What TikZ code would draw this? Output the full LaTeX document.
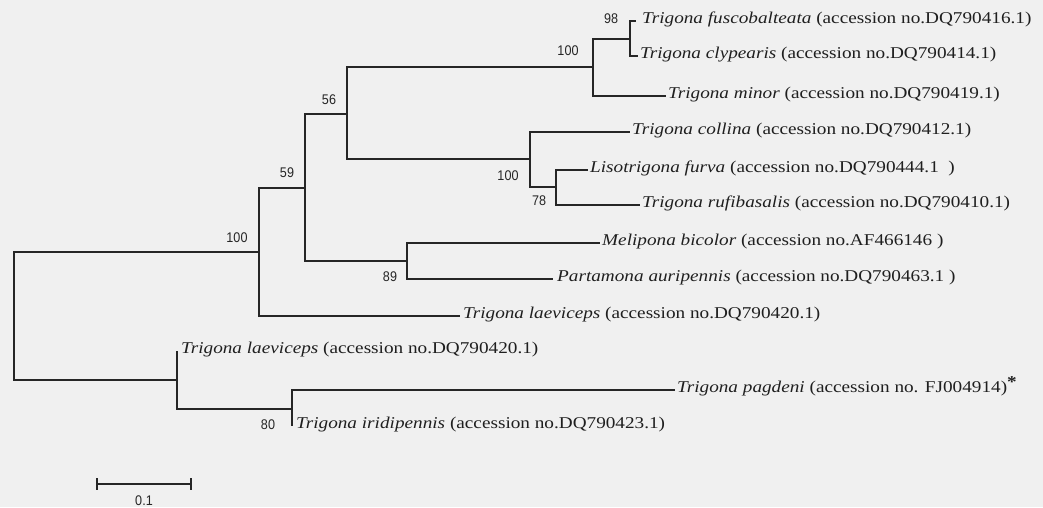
\documentclass[tikz,border=0pt]{standalone}
\usepackage{fontspec}
\setmainfont{Liberation Serif}
\newfontfamily\leaffont[FakeStretch=1.165]{Liberation Serif}
\newfontfamily\bsfont[FakeStretch=0.9]{Liberation Sans}
\begin{document}
\begin{tikzpicture}[x=1pt,y=-1pt,
  br/.style={draw=black!85, line width=1.1pt, line join=miter},
  leaf/.style={anchor=west, inner xsep=2pt, inner ysep=0pt, text height=0.7em, text depth=0.2em,
    font=\leaffont\fontsize{16.5}{19}\selectfont, text=black!88},
  bs/.style={font=\bsfont\fontsize{14}{16}\selectfont, text=black!85, inner sep=0pt}]
\useasboundingbox[fill=black!6] (0,0) rectangle (1043,507);

% internal nodes (x of vertical bar, y of stem)
\coordinate (root) at (14,316);
\coordinate (n100) at (259,252);
\coordinate (n59)  at (305,188);
\coordinate (n56)  at (347,114);
\coordinate (nF)   at (593,67);
\coordinate (n98)  at (630,39);
\coordinate (nC)   at (530,159);
\coordinate (n78)  at (556,187);
\coordinate (n89)  at (407,261);
\coordinate (nB)   at (177,380);
\coordinate (n80)  at (292,409);

% leaves
\node[leaf, inner xsep=6pt] (fus) at (636,21) {\textit{Trigona fuscobalteata} (accession no.DQ790416.1)};
\node[leaf] (cly) at (638,56) {\textit{Trigona clypearis} (accession no.DQ790414.1)};
\node[leaf] (min) at (666,96) {\textit{Trigona minor} (accession no.DQ790419.1)};
\node[leaf] (col) at (630,132) {\textit{Trigona collina} (accession no.DQ790412.1)};
\node[leaf] (lis) at (588,170) {\textit{Lisotrigona furva} (accession no.DQ790444.1\ \ )};
\node[leaf] (ruf) at (640,205) {\textit{Trigona rufibasalis} (accession no.DQ790410.1)};
\node[leaf] (mel) at (600,243) {\textit{Melipona bicolor} (accession no.AF466146 )};
\node[leaf, inner xsep=4pt] (par) at (553,279) {\textit{Partamona auripennis} (accession no.DQ790463.1 )};
\node[leaf, inner xsep=3pt] (lae) at (460,316) {\textit{Trigona laeviceps} (accession no.DQ790420.1)};
\node[leaf, inner xsep=4pt] (lae2) at (177,351) {\textit{Trigona laeviceps} (accession no.DQ790420.1)};
\node[leaf] (pag) at (675,390) {\textit{Trigona pagdeni} (accession no. FJ004914)\raisebox{0.3em}{\bfseries *}};
\node[leaf, inner xsep=4pt] (iri) at (292,426) {\textit{Trigona iridipennis} (accession no.DQ790423.1)};

% branches
\draw[br] (root) |- (n100);
\draw[br] (root) |- (nB);
\draw[br] (n100) |- (n59);
\draw[br] (n100) |- (lae.west);
\draw[br] (n59) |- (n56);
\draw[br] (n59) |- (n89);
\draw[br] (n56) |- (nF);
\draw[br] (n56) |- (nC);
\draw[br] (nF) |- (n98);
\draw[br] (nF) |- (min.west);
\draw[br] (n98) |- (fus.west);
\draw[br] (n98) |- (cly.west);
\draw[br] (nC) |- (col.west);
\draw[br] (nC) |- (n78);
\draw[br] (n78) |- (lis.west);
\draw[br] (n78) |- (ruf.west);
\draw[br] (n89) |- (mel.west);
\draw[br] (n89) |- (par.west);
\draw[br] (nB) |- (lae2.west);
\draw[br] (nB) |- (n80);
\draw[br] (n80) |- (pag.west);
\draw[br] (n80) |- (iri.west);

% bootstrap values
\node[bs] (b98)  at (611,19)  {98};
\node[bs] (bF)   at (568,51)  {100};
\node[bs] (b56)  at (329,100) {56};
\node[bs] (b59)  at (287,173) {59};
\node[bs] (b100) at (237,238) {100};
\node[bs] (bC)   at (508,176) {100};
\node[bs] (b78)  at (539,201) {78};
\node[bs] (b89)  at (390,277) {89};
\node[bs] (b80)  at (268,425) {80};

% scale bar
\coordinate (sb1) at (97,484);
\coordinate (sb2) at (191,484);
\draw[br] (sb1) -- (sb2);
\draw[br] ([yshift=6pt]sb1) -- ([yshift=-6pt]sb1);
\draw[br] ([yshift=6pt]sb2) -- ([yshift=-6pt]sb2);
\node[bs] (sbl) at (144,501) {0.1};
\end{tikzpicture}
\end{document}
